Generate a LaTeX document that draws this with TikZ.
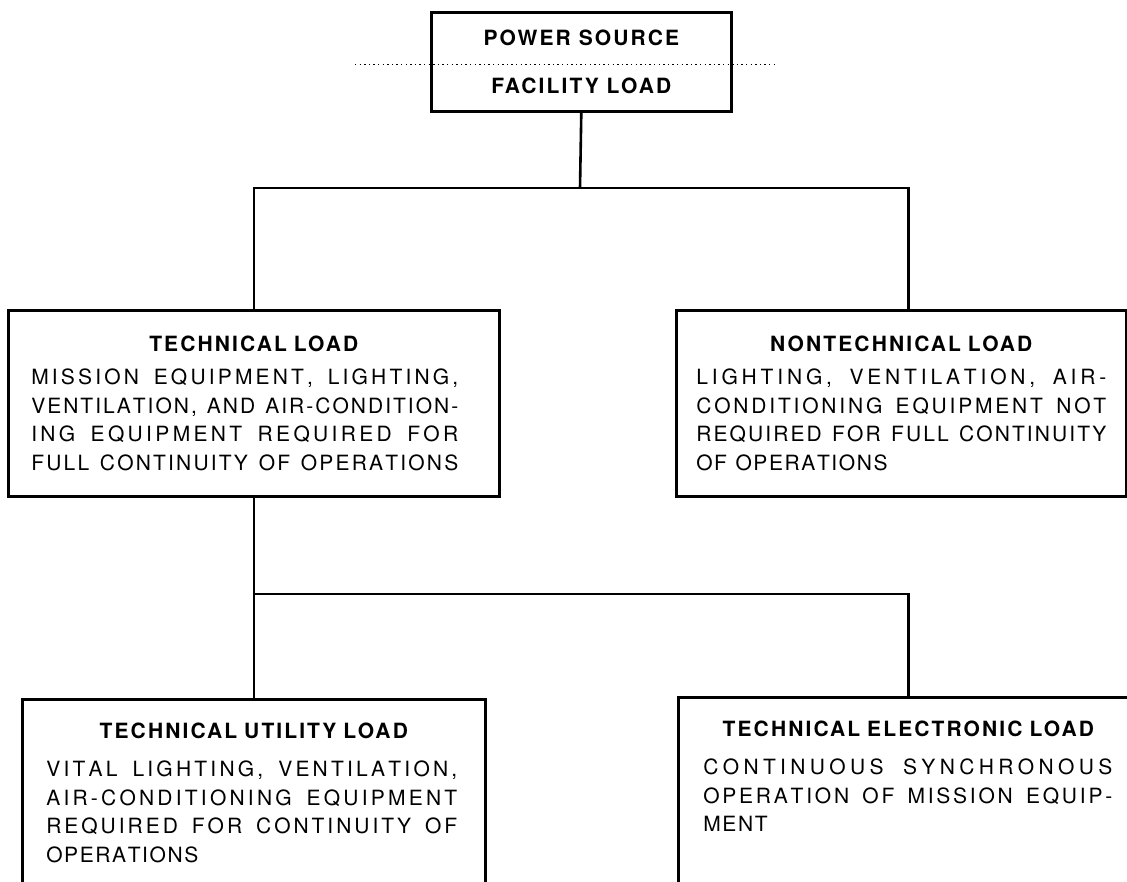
\documentclass[tikz,border=0pt]{standalone}
\usepackage{fontspec}
\setmainfont{TeX Gyre Heros}
\newfontfamily\headfont{TeX Gyre Heros}[LetterSpace=10]
\newfontfamily\bodyfont{TeX Gyre Heros}
\usepackage{tikz}

\ExplSyntaxOn
\bool_new:N \l_spread_first_bool
\cs_new_protected:Npn \spreadtext #1
  {
    \bool_set_true:N \l_spread_first_bool
    \str_map_inline:nn {#1}
      {
        \bool_if:NF \l_spread_first_bool { \hskip 1.6pt plus 1fil minus 1.2pt }
        \bool_set_false:N \l_spread_first_bool
        \str_if_eq:nnTF {##1} {~} { \hskip 0.25em plus 2fil } { ##1 }
      }
  }
\ExplSyntaxOff

\newcommand{\loadtitle}[1]{\makebox[\linewidth]{\headfont\bfseries #1}}
\newcommand{\loadline}[2]{\makebox[#1][s]{\spreadtext{#2}}}
\newcommand{\loadlast}[1]{\mbox{\spreadtext{#1}}}

\tikzset{
    loadbox/.style={draw, line width=2.6pt, rectangle, anchor=north west, align=left,
        font=\bodyfont\fontsize{21}{28.5}\selectfont},
    wire/.style={line width=2.6pt},
    cutline/.style={line width=1.2pt, dash pattern=on 1.4pt off 3.2pt}
}

\begin{document}
\begin{tikzpicture}[x=1pt, y=-1pt]

        \useasboundingbox (0,0) rectangle (1127,882);
        \clip (0,0) rectangle (1127,882);

        \node[loadbox, align=center, minimum width=300pt, minimum height=99pt,
            font=\headfont\bfseries\fontsize{21}{28.5}\selectfont] (power) at (430,11)
            {POWER SOURCE\\[19.5pt]FACILITY LOAD};
        \draw[cutline] ([xshift=-75pt, yshift=-2.5pt]power.west) -- ([xshift=42pt, yshift=-2.5pt]power.east);

        \node[loadbox, text width=445pt, inner xsep=23pt, minimum height=186pt] (tech) at (7,309) {%
            \loadtitle{TECHNICAL LOAD}\\[5pt]
            \loadline{427pt}{MISSION EQUIPMENT, LIGHTING,}\\
            \loadline{427pt}{VENTILATION, AND AIR-CONDITION-}\\
            \loadline{427pt}{ING EQUIPMENT REQUIRED FOR}\\
            \loadline{427pt}{FULL CONTINUITY OF OPERATIONS}};

        \node[loadbox, text width=410pt, inner xsep=20pt, minimum height=186pt] (nontech) at (675,309) {%
            \loadtitle{NONTECHNICAL LOAD}\\[5pt]
            \loadline{410pt}{LIGHTING, VENTILATION, AIR-}\\
            \loadline{410pt}{CONDITIONING EQUIPMENT NOT}\\
            \loadline{410pt}{REQUIRED FOR FULL CONTINUITY}\\
            \loadlast{OF OPERATIONS}};

        \node[loadbox, text width=415pt, inner xsep=24pt, inner ysep=24pt, text depth=320pt] (util) at (21,698) {%
            \loadtitle{TECHNICAL UTILITY LOAD}\\[9.5pt]
            \loadline{411pt}{VITAL LIGHTING, VENTILATION,}\\
            \loadline{411pt}{AIR-CONDITIONING EQUIPMENT}\\
            \loadline{411pt}{REQUIRED FOR CONTINUITY OF}\\
            \loadlast{OPERATIONS}};

        \node[loadbox, text width=410pt, inner xsep=25pt, inner ysep=24pt, text depth=320pt] (tel) at (677,696) {%
            \loadtitle{TECHNICAL ELECTRONIC LOAD}\\[9.5pt]
            \loadline{409pt}{CONTINUOUS SYNCHRONOUS}\\
            \loadline{409pt}{OPERATION OF MISSION EQUIP-}\\
            \loadlast{MENT}};

        \coordinate (topbus) at (580,188);
        \coordinate (lowbus) at (252.5,594);

        \draw[wire] (power.south) -- (topbus);
        \draw[wire] (tech.north) |- (topbus) -| (nontech.north -| tel.north);
        \draw[wire] (tech.south) -- (util.north);
        \draw[wire] (lowbus) -| (tel.north);

\end{tikzpicture}
\end{document}
